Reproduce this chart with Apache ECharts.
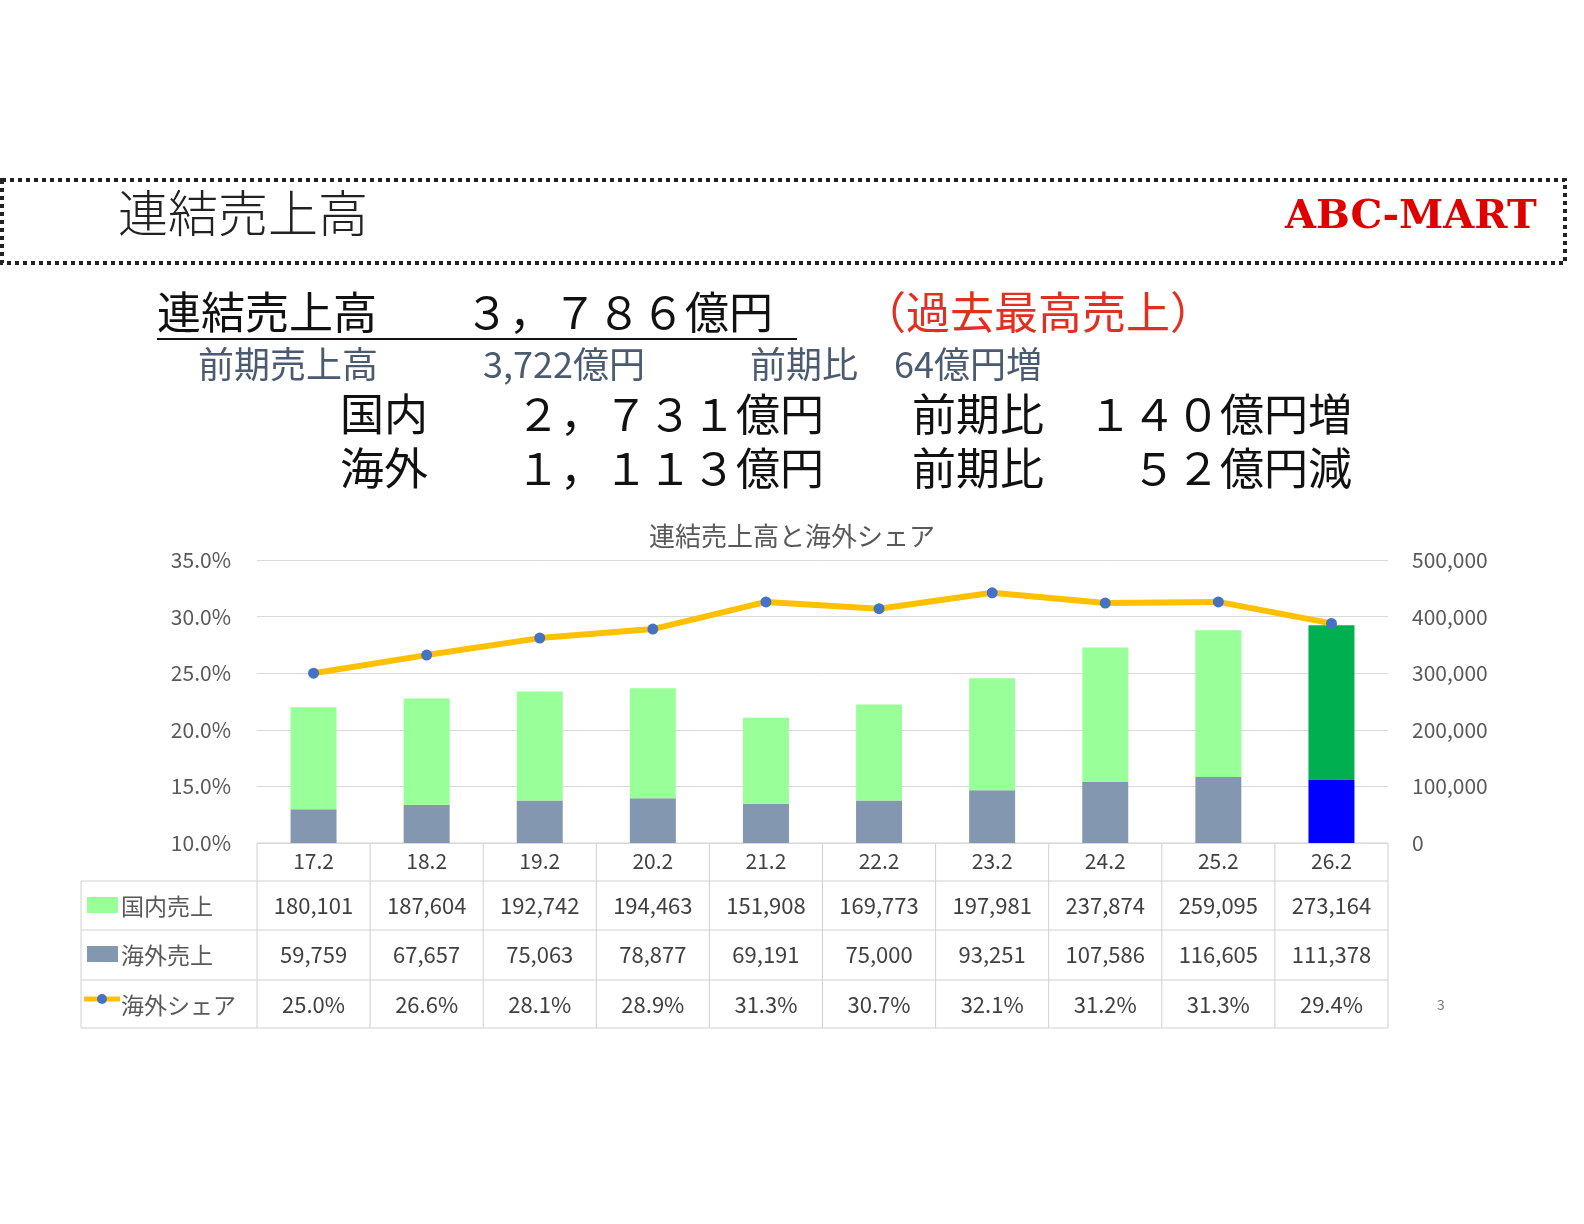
<!DOCTYPE html>
<html><head><meta charset="utf-8">
<script src="https://cdn.jsdelivr.net/npm/echarts@6/dist/echarts.min.js"></script>
<style>
html,body{margin:0;padding:0;background:#fff;overflow:hidden;font-family:"Noto Sans CJK JP",sans-serif;}
#c{width:1584px;height:1224px;}
</style></head><body>
<div id="c"></div>
<script>
const categories = ['17.2','18.2','19.2','20.2','21.2','22.2','23.2','24.2','25.2','26.2'];
const domestic = [180101,187604,192742,194463,151908,169773,197981,237874,259095,273164];
const overseas = [59759,67657,75063,78877,69191,75000,93251,107586,116605,111378];
const share = [25.0,26.6,28.1,28.9,31.3,30.7,32.1,31.2,31.3,29.4];

const G = {left: 257, right: 196, top: 560, bottom: 381}; // plot 257..1388, 560..843
const plotW = 1584 - G.left - G.right;
const cw = plotW / categories.length;
const plotBottom = 1224 - G.bottom;
const rowY = [906, 955, 1005];
const font = '"Noto Sans CJK JP", sans-serif';

const chart = echarts.init(document.getElementById('c'));
const graphics = [];
// header box
graphics.push({type:'rect', shape:{x:2, y:180, width:1563, height:83}, style:{fill:'none', stroke:'#222', lineWidth:4, lineDash:[4,4]}});
graphics.push({type:'text', left:118, top:188, style:{text:'連結売上高', font:'300 50px '+font, fill:'#222'}});
graphics.push({type:'text', left:1285, top:198, style:{text:'ABC-MART', font:'900 40px "DejaVu Serif", serif', fill:'#e00000'}});
graphics.push({type:'text', left:157, top:290, style:{text:'連結売上高　　３，７８６億円', font:'44px '+font, fill:'#111'}});
graphics.push({type:'line', shape:{x1:157, y1:339, x2:797, y2:339}, style:{stroke:'#111', lineWidth:2}});
graphics.push({type:'text', left:862, top:290, style:{text:'（過去最高売上）', font:'44px '+font, fill:'#e03020'}});
graphics.push({type:'text', left:198, top:346, style:{text:'前期売上高', font:'36px '+font, fill:'#4a5a70'}});
graphics.push({type:'text', left:483, top:346, style:{text:'3,722億円', font:'36px '+font, fill:'#4a5a70'}});
graphics.push({type:'text', left:750, top:346, style:{text:'前期比　64億円増', font:'36px '+font, fill:'#4a5a70'}});
graphics.push({type:'text', left:340, top:392, style:{text:'国内　　２，７３１億円　　前期比　１４０億円増', font:'44px '+font, fill:'#111'}});
graphics.push({type:'text', left:340, top:446, style:{text:'海外　　１，１１３億円　　前期比　　５２億円減', font:'44px '+font, fill:'#111'}});
graphics.push({type:'text', left:1437, top:998, style:{text:'3', font:'14px '+font, fill:'#777'}});

// table grid
const tL = 81, tR = G.left + plotW, tT = plotBottom, tB = 1028;
const hLines = [[G.left, tT], [tL, 881], [tL, 930], [tL, 980], [tL, tB]];
hLines.forEach(([x, y]) => graphics.push({type:'line', shape:{x1:x, y1:y, x2:tR, y2:y}, style:{stroke:'#d0d0d0', lineWidth:1}}));
graphics.push({type:'line', shape:{x1:tL, y1:881, x2:tL, y2:tB}, style:{stroke:'#d0d0d0'}});
for (let i = 0; i <= categories.length; i++) {
  const x = G.left + i * cw;
  graphics.push({type:'line', shape:{x1:x, y1:tT, x2:x, y2:tB}, style:{stroke:'#d0d0d0'}});
}
const rows = [
  {name:'国内売上', vals: domestic.map(v => v.toLocaleString('en-US')), key:'g'},
  {name:'海外売上', vals: overseas.map(v => v.toLocaleString('en-US')), key:'o'},
  {name:'海外シェア', vals: share.map(v => v.toFixed(1) + '%'), key:'s'}
];
rows.forEach((r, ri) => {
  const y = rowY[ri];
  if (r.key === 'g') graphics.push({type:'rect', shape:{x:87, y:y-9, width:31, height:16}, style:{fill:'#99ff99'}});
  if (r.key === 'o') graphics.push({type:'rect', shape:{x:87, y:y-9, width:31, height:16}, style:{fill:'#8497b0'}});
  if (r.key === 's') {
    graphics.push({type:'line', shape:{x1:84, y1:y-6, x2:120, y2:y-6}, style:{stroke:'#ffc000', lineWidth:5}});
    graphics.push({type:'circle', shape:{cx:102, cy:y-6, r:5}, style:{fill:'#4472c4'}});
  }
  graphics.push({type:'text', x:121, y:y, style:{text:r.name, font:'23px '+font, fill:'#595959', verticalAlign:'middle'}});
  r.vals.forEach((v, i) => graphics.push({type:'text', x:G.left + (i + 0.5) * cw, y:y, style:{text:v, font:'22px '+font, fill:'#404040', align:'center', verticalAlign:'middle'}}));
});

const barColorsO = overseas.map((v, i) => i === overseas.length - 1 ? '#0000ff' : '#8497b0');
const barColorsD = domestic.map((v, i) => i === domestic.length - 1 ? '#00b050' : '#99ff99');

chart.setOption({
  animation: false,
  title: {text:'連結売上高と海外シェア', left:'center', top:518, textStyle:{fontSize:26, fontWeight:'normal', color:'#595959', fontFamily:font}},
  grid: G,
  xAxis: {type:'category', data:categories, axisLine:{show:false}, axisTick:{show:false},
    axisLabel:{fontSize:21, color:'#404040', margin:8, fontFamily:font}},
  yAxis: [
    {type:'value', min:10, max:35, interval:5, axisLabel:{formatter: v => v.toFixed(1) + '%', fontSize:21, color:'#595959', margin:26, fontFamily:font},
      splitLine:{lineStyle:{color:'#d9d9d9'}}},
    {type:'value', min:0, max:500000, interval:100000, axisLabel:{formatter: v => v.toLocaleString('en-US'), fontSize:21, color:'#595959', margin:24, fontFamily:font},
      splitLine:{show:false}}
  ],
  series: [
    {type:'bar', stack:'s', yAxisIndex:1, barWidth:46, data: overseas.map((v, i) => ({value:v, itemStyle:{color:barColorsO[i]}}))},
    {type:'bar', stack:'s', yAxisIndex:1, barWidth:46, data: domestic.map((v, i) => ({value:v, itemStyle:{color:barColorsD[i]}}))},
    {type:'line', yAxisIndex:0, data:share, symbol:'circle', symbolSize:11, z:5,
      lineStyle:{color:'#ffc000', width:6}, itemStyle:{color:'#4472c4'}}
  ],
  graphic: graphics
});
</script>
</body></html>
